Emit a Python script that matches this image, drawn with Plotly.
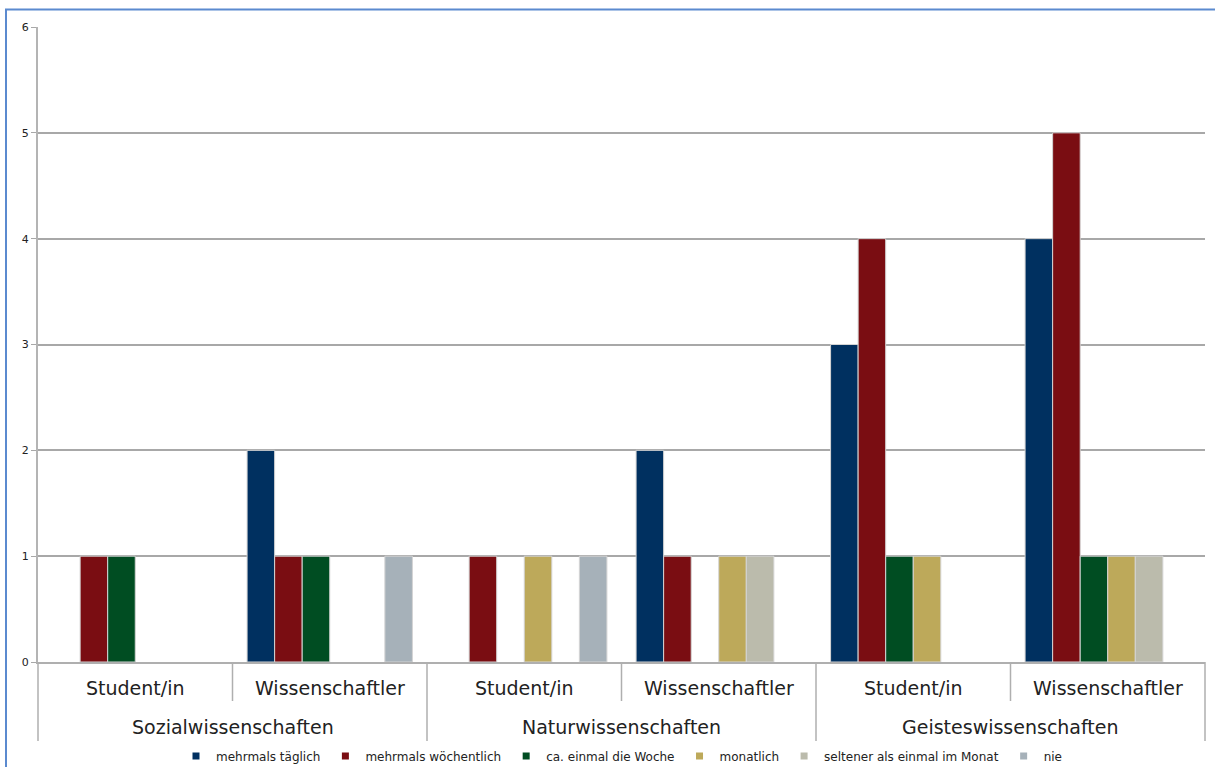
import plotly.graph_objects as go

fields = ["Sozialwissenschaften", "Sozialwissenschaften",
          "Naturwissenschaften", "Naturwissenschaften",
          "Geisteswissenschaften", "Geisteswissenschaften"]
roles = ["Student/in", "Wissenschaftler", "Student/in", "Wissenschaftler",
         "Student/in", "Wissenschaftler"]
field_names = ["Sozialwissenschaften", "Naturwissenschaften", "Geisteswissenschaften"]

series_names = ["mehrmals täglich", "mehrmals wöchentlich", "ca. einmal die Woche",
                "monatlich", "seltener als einmal im Monat", "nie"]
mehrmals_taeglich = [0, 2, 0, 2, 3, 4]
mehrmals_woechentlich = [1, 1, 1, 1, 4, 5]
einmal_woche = [1, 1, 0, 0, 1, 1]
monatlich = [0, 0, 1, 1, 1, 1]
seltener = [0, 0, 0, 1, 0, 1]
nie = [0, 1, 1, 0, 0, 0]
series_values = [mehrmals_taeglich, mehrmals_woechentlich, einmal_woche,
                 monatlich, seltener, nie]
colors = ["#003060", "#7A0D12", "#004D22", "#BDA95A", "#BBBBAC", "#A6B1B9"]

W, H = 1215, 767
L, R, T, B = 38, 10, 27, 105
pw, ph = W - L - R, H - T - B

def py(p):  # pixel y -> paper y
    return (H - B - p) / ph

def px(p):  # pixel x -> paper x
    return (p - L) / pw

font = "DejaVu Sans, Verdana, sans-serif"
txt = "#222222"

fig = go.Figure()
for name, vals, col in zip(series_names, series_values, colors):
    fig.add_trace(go.Bar(
        x=[fields, roles], y=[v if v else None for v in vals], name=name,
        showlegend=False,
        marker=dict(color=col, line=dict(color="#D4D4D4", width=1)),
    ))
    # legend entry with a small square marker
    fig.add_trace(go.Scatter(
        x=[[fields[0]], [roles[0]]], y=[None], mode="markers", name=name,
        marker=dict(symbol="square", size=7, color=col), hoverinfo="skip",
    ))

fig.update_layout(
    width=W, height=H,
    margin=dict(l=L, r=R, t=T, b=B, autoexpand=False),
    paper_bgcolor="white", plot_bgcolor="white",
    barmode="group", bargap=0.15, bargroupgap=0.0,
    font=dict(family=font, color=txt),
    showlegend=True,
    legend=dict(orientation="h", x=0.5, xanchor="center", y=py(756), yanchor="middle",
                font=dict(size=12, color=txt), itemwidth=30,
                traceorder="normal", itemclick=False, tracegroupgap=0),
    xaxis=dict(type="multicategory", showdividers=False, ticks="",
               showticklabels=False,
               showline=True, linecolor="#AFAFAF", linewidth=2,
               showgrid=False),
    yaxis=dict(range=[0, 6], dtick=1, tick0=0, showgrid=True, gridcolor="#A8A8A8",
               gridwidth=1.5, zeroline=False, showline=True, linecolor="#B4B4B4",
               linewidth=2, ticks="outside", ticklen=5, tickcolor="#A8A8A8",
               tickfont=dict(size=11, color=txt)),
)

annotations = []
for i, r in enumerate(roles):
    annotations.append(dict(text=r, xref="paper", yref="paper", x=(i + 0.5) / 6,
                            y=py(688), xanchor="center", yanchor="middle",
                            showarrow=False, font=dict(size=19, color=txt)))
for k, f in enumerate(field_names):
    annotations.append(dict(text=f, xref="paper", yref="paper", x=(2 * k + 1) / 6,
                            y=py(727), xanchor="center", yanchor="middle",
                            showarrow=False, font=dict(size=19, color=txt)))
fig.update_layout(annotations=annotations)

shapes = []
for f in [0, 2 / 6, 4 / 6, 1]:
    shapes.append(dict(type="line", xref="paper", yref="paper", x0=f, x1=f,
                       y0=0, y1=py(741), line=dict(color="#AFAFAF", width=1.5)))
for f in [1 / 6, 3 / 6, 5 / 6]:
    shapes.append(dict(type="line", xref="paper", yref="paper", x0=f, x1=f,
                       y0=0, y1=py(701), line=dict(color="#AFAFAF", width=1.5)))
shapes.append(dict(type="rect", xref="paper", yref="paper",
                   x0=px(6), x1=px(1240), y0=py(790), y1=py(9.5),
                   line=dict(color="#5B8ACF", width=2), fillcolor="rgba(0,0,0,0)",
                   layer="above"))
fig.update_layout(shapes=shapes)

fig.write_html("out.html")
